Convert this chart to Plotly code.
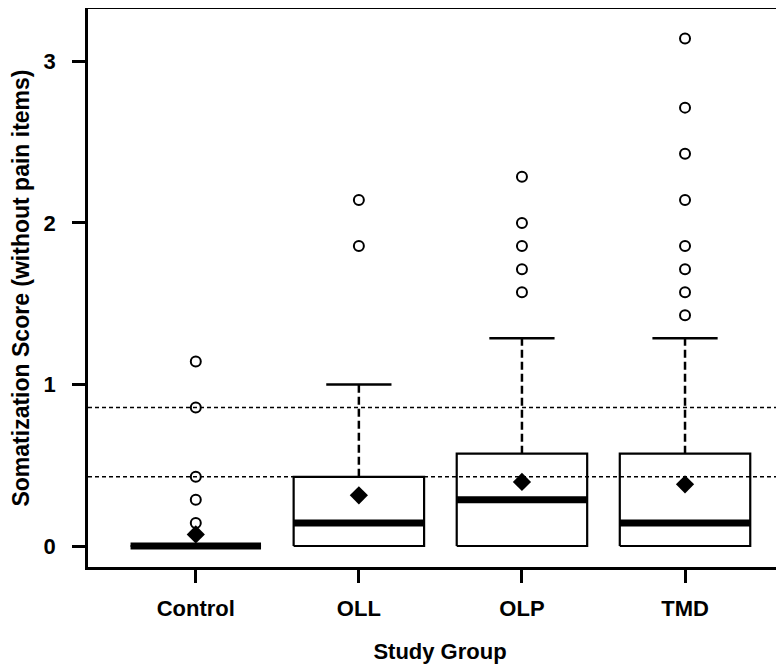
import plotly.graph_objects as go

# ---- data ----
groups = ["Control", "OLL", "OLP", "TMD"]
positions = [1, 2, 3, 4]
q1 = [0.0, 0.0, 0.0, 0.0]
median = [0.0, 1/7, 2/7, 1/7]
q3 = [0.0, 3/7, 4/7, 4/7]
whisker_hi = [0.0, 1.0, 9/7, 9/7]
means = [0.072, 0.314, 0.397, 0.382]
outliers = {
    "Control": [1/7, 2/7, 3/7, 6/7, 8/7],
    "OLL": [13/7, 15/7],
    "OLP": [11/7, 12/7, 13/7, 2.0, 16/7],
    "TMD": [10/7, 11/7, 12/7, 13/7, 15/7, 17/7, 19/7, 22/7],
}
ref_lines = [3/7, 6/7]

BOX_HALF = 0.40
CAP_HALF = 0.20
FONT = "Liberation Sans, Arial, sans-serif"

fig = go.Figure()

for i, g in enumerate(groups):
    x = positions[i]
    # whisker (dashed)
    if whisker_hi[i] > q3[i]:
        fig.add_trace(go.Scatter(
            x=[x, x], y=[q3[i], whisker_hi[i]], mode="lines",
            line=dict(color="black", width=2.5, dash="8px,4px"),
            hoverinfo="skip", showlegend=False))
        fig.add_trace(go.Scatter(
            x=[x - CAP_HALF, x + CAP_HALF], y=[whisker_hi[i], whisker_hi[i]],
            mode="lines", line=dict(color="black", width=2.5),
            hoverinfo="skip", showlegend=False))
    # box
    fig.add_trace(go.Scatter(
        x=[x - BOX_HALF, x + BOX_HALF, x + BOX_HALF, x - BOX_HALF, x - BOX_HALF],
        y=[q1[i], q1[i], q3[i], q3[i], q1[i]],
        mode="lines", fill="toself", fillcolor="white",
        line=dict(color="black", width=2.2),
        hoverinfo="skip", showlegend=False))
    # median
    fig.add_trace(go.Scatter(
        x=[x - BOX_HALF, x + BOX_HALF], y=[median[i], median[i]],
        mode="lines", line=dict(color="black", width=7),
        hoverinfo="skip", showlegend=False))
    # outliers
    fig.add_trace(go.Scatter(
        x=[x] * len(outliers[g]), y=outliers[g], mode="markers",
        marker=dict(symbol="circle-open", size=10, color="black",
                    line=dict(width=2, color="black")),
        showlegend=False))
    # mean
    fig.add_trace(go.Scatter(
        x=[x], y=[means[i]], mode="markers",
        marker=dict(symbol="diamond", size=14, color="black"),
        showlegend=False))

for v in ref_lines:
    fig.add_shape(type="line", xref="x domain", yref="y", x0=0, x1=1, y0=v, y1=v,
                  line=dict(color="black", width=1.6, dash="4px,3px"), layer="above")

fig.update_layout(
    width=784, height=669,
    margin=dict(l=80, r=0, t=1, b=110, autoexpand=False),
    paper_bgcolor="white", plot_bgcolor="white",
    font=dict(family=FONT, size=22, color="black"),
    showlegend=False,
)
fig.update_xaxes(
    range=[0.339, 4.656], tickmode="array", tickvals=positions, ticktext=groups,
    automargin=False,
    showgrid=False, zeroline=False, showline=True, linecolor="black", linewidth=2.5,
    mirror=True, ticks="outside", ticklen=13, tickwidth=2.5, tickcolor="black",
    tickfont=dict(family=FONT, size=22, color="black", weight="bold"),
    ticklabelstandoff=7,
    title=dict(text="<b>Study Group</b>", standoff=24,
               font=dict(family=FONT, size=22, color="black")),
)
fig.update_yaxes(
    range=[-0.130, 3.325], tickmode="array", tickvals=[0, 1, 2, 3],
    ticktext=["0", "1", "2", "3"],
    automargin=False,
    showgrid=False, zeroline=False, showline=True, linecolor="black", linewidth=2.5,
    mirror=False, ticks="outside", ticklen=13, tickwidth=2.5, tickcolor="black",
    tickfont=dict(family=FONT, size=22, color="black", weight="bold"),
    ticklabelstandoff=12,
    title=dict(text="<b>Somatization Score (without pain items)</b>", standoff=13,
               font=dict(family=FONT, size=23, color="black")),
)

fig.write_html("out.html")
